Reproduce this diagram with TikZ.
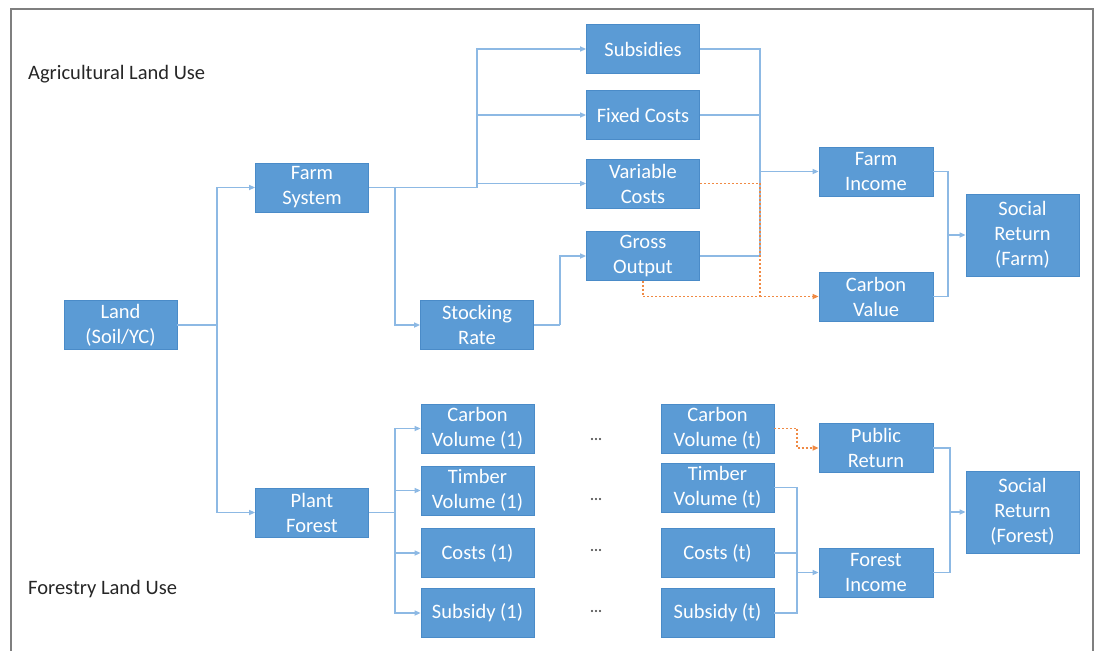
\documentclass[tikz,border=0pt]{standalone}
\usepackage{fontspec}
\setmainfont{Carlito}
\usetikzlibrary{arrows.meta}
\definecolor{boxblue}{HTML}{5B9BD5}
\definecolor{boxedge}{HTML}{4A8BC8}
\definecolor{linkblue}{HTML}{8DB9E4}
\definecolor{orangedot}{HTML}{F08A44}
\definecolor{framegray}{HTML}{7F7F7F}
\definecolor{labelgray}{HTML}{262626}
\tikzset{
  box/.style={rectangle, fill=boxblue, draw=boxedge, line width=0.8pt, text=white,
    minimum width=113pt, minimum height=49pt, inner sep=0pt, align=center,
    font=\fontsize{20.5}{25}\selectfont},
  conn/.style={draw=linkblue, line width=1.5pt},
  arr/.style={conn, -{Triangle[length=6pt,width=5pt]}},
  odash/.style={draw=orangedot, line width=1.5pt, dash pattern=on 2pt off 2pt},
  oarr/.style={odash, -{Triangle[length=6pt,width=5pt]}},
  sidelabel/.style={anchor=west, text=labelgray, inner sep=0pt, font=\fontsize{20.5}{24}\selectfont},
  dots/.style={text=labelgray!75, inner sep=0pt, anchor=base, font=\bfseries\fontsize{15}{16}\selectfont}
}
\begin{document}
\begin{tikzpicture}[x=1pt,y=-1pt]
\useasboundingbox (0,0) rectangle (1099,650);
\draw[framegray, line width=1.5pt] (11,652) -- (11,9) -- (1093,9) -- (1093,652);

% labels
\node[sidelabel] (agri) at (28,74) {Agricultural Land Use};
\node[sidelabel] (fore) at (28,589) {Forestry Land Use};

% agricultural boxes
\node[box] (land) at (120.5,325) {Land\\(Soil/YC)};
\node[box] (farm) at (312,187.5) {Farm\\System};
\node[box] (pf) at (312,512.5) {Plant\\Forest};
\node[box] (subs) at (643,49) {Subsidies};
\node[box] (fixed) at (643,115) {Fixed Costs};
\node[box] (var) at (643,183.5) {Variable\\Costs};
\node[box] (gross) at (643,256) {Gross\\Output};
\node[box] (stock) at (477,325) {Stocking\\Rate};
\node[box, minimum width=114pt] (finc) at (876,171.5) {Farm\\Income};
\node[box, minimum width=114pt] (cval) at (876,296.5) {Carbon\\Value};
\node[box, minimum height=82pt] (sfarm) at (1022.5,235) {Social\\Return\\(Farm)};

% forestry boxes
\node[box] (cv1) at (477.5,428.5) {Carbon\\Volume (1)};
\node[box] (tv1) at (477.5,490.5) {Timber\\Volume (1)};
\node[box] (c1) at (477.5,553) {Costs (1)};
\node[box] (s1) at (477.5,613) {Subsidy (1)};
\node[box] (cvt) at (717.5,428.5) {Carbon\\Volume (t)};
\node[box] (tvt) at (717.5,487.5) {Timber\\Volume (t)};
\node[box] (ct) at (717.5,553) {Costs (t)};
\node[box] (st) at (717.5,613) {Subsidy (t)};
\node[box, minimum width=114pt] (pub) at (876,448) {Public\\Return};
\node[box, minimum width=114pt] (finc2) at (876,572.5) {Forest\\Income};
\node[box, minimum height=82pt] (sfor) at (1022.5,512) {Social\\Return\\(Forest)};

% dots
\node[dots] (d1) at (596,440) {...};
\node[dots] (d2) at (596,500) {...};
\node[dots] (d3) at (596,551) {...};
\node[dots] (d4) at (596,612) {...};

% junctions
\coordinate (j1) at (217,325);
\coordinate (j2) at (477,187.5);
\coordinate (j3) at (395,187.5);
\coordinate (j4) at (560,325);
\coordinate (j5) at (760,171.5);
\coordinate (j6) at (760,296.5);
\coordinate (j7) at (948,235);
\coordinate (j8) at (395,512.5);
\coordinate (j9) at (797,572.5);
\coordinate (j10) at (950,512);
\coordinate (j11) at (797,428.5);

% land
\draw[conn] (land.east) -- (j1);
\draw[arr] (j1) |- (farm.west);
\draw[arr] (j1) |- (pf.west);

% farm system
\draw[conn] (farm.east) -- (j2);
\draw[arr] (j2) |- (subs.west);
\draw[arr] (j2) |- (fixed.west);
\draw[arr] (j2) |- (var.west);
\draw[arr] (j3) |- (stock.west);
\draw[conn] (stock.east) -- (j4);
\draw[arr] (j4) |- (gross.west);

% farm income
\draw[conn] (subs.east) -| (j5);
\draw[conn] (fixed.east) -| (j5);
\draw[conn] (gross.east) -| (j5);
\draw[arr] (j5) -- (finc.west);

% carbon value (orange dotted)
\draw[odash] (var.east) -| (j6);
\draw[odash] (gross.south) |- (j6);
\draw[oarr] (j6) -- (cval.west);

% social return farm
\draw[conn] (finc.east) -| (j7);
\draw[conn] (cval.east) -| (j7);
\draw[arr] (j7) -- (sfarm.west);

% plant forest
\draw[conn] (pf.east) -- (j8);
\draw[arr] (j8) |- (cv1.west);
\draw[arr] (j8) |- (tv1.west);
\draw[arr] (j8) |- (c1.west);
\draw[arr] (j8) |- (s1.west);

% public return
\draw[odash] (cvt.east) -- (j11);
\draw[oarr] (j11) |- (pub.west);

% forest income
\draw[conn] (tvt.east) -| (j9);
\draw[conn] (ct.east) -| (j9);
\draw[conn] (st.east) -| (j9);
\draw[arr] (j9) -- (finc2.west);

% social return forest
\draw[conn] (pub.east) -| (j10);
\draw[conn] (finc2.east) -| (j10);
\draw[arr] (j10) -- (sfor.west);
\end{tikzpicture}
\end{document}
